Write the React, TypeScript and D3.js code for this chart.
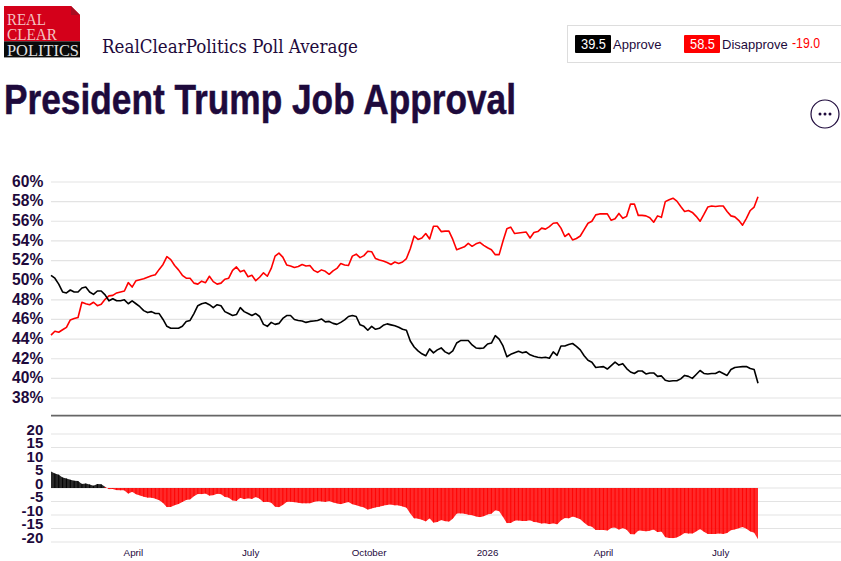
import React from "react";
import * as d3 from "d3";

const approve = [50.5,50.2,49.6,48.8,48.7,49.0,48.8,48.8,49.2,49.3,48.8,48.55,48.9,48.9,48.5,47.9,48.1,47.9,47.9,48.0,47.6,47.9,47.6,47.3,46.9,46.7,46.8,46.6,46.6,46.0,45.3,45.1,45.1,45.1,45.3,45.8,45.9,46.6,47.4,47.6,47.7,47.5,47.2,47.5,47.4,46.8,46.6,46.4,46.5,47.2,46.8,46.6,46.4,46.6,46.3,45.5,45.3,45.7,45.5,45.6,
46.1,46.4,46.4,46.0,45.9,45.85,45.7,45.8,45.85,45.9,46.05,45.75,45.8,45.6,45.5,45.7,45.95,46.3,46.4,46.3,45.45,45.3,44.9,45.3,45.0,45.1,45.4,45.55,45.45,45.35,45.2,45.0,44.9,43.8,43.2,42.8,42.5,42.3,43.0,42.6,42.9,43.1,42.7,42.5,42.8,43.6,43.85,43.85,43.85,43.4,43.1,43.05,43.1,43.5,43.6,44.35,44.0,43.3,42.2,42.45,42.6,42.75,42.6,42.7,42.4,42.25,42.15,42.1,42.15,42.05,
42.7,42.35,43.3,43.3,43.45,43.55,43.25,42.9,42.3,41.85,41.65,41.1,41.15,41.2,40.95,41.3,41.65,41.35,41.5,41.0,40.65,40.5,40.75,40.75,40.45,40.55,40.55,40.2,40.25,39.8,39.7,39.75,39.75,39.95,40.3,40.2,40.0,40.4,40.8,40.5,40.45,40.5,40.5,40.7,40.5,40.3,40.9,41.1,41.15,41.2,41.2,41.0,40.9,39.5];

const disapprove = [44.4,44.8,44.7,44.95,45.2,45.95,46.1,46.2,47.75,47.6,47.5,47.75,47.4,47.55,48.05,48.4,48.45,48.7,48.8,48.9,49.75,49.3,49.95,50.05,50.15,50.3,50.45,50.55,51.1,51.6,52.4,52.1,51.5,51.05,50.5,50.2,50.2,49.7,49.6,49.9,49.75,50.4,49.85,49.6,49.7,50.1,50.2,51.0,51.35,50.85,51.0,50.35,50.5,49.95,50.3,50.75,50.4,51.2,52.45,52.75,
52.35,51.55,51.45,51.3,51.4,51.6,51.45,51.5,51.0,50.8,51.05,50.9,50.6,50.95,51.2,51.7,51.55,51.5,52.45,52.65,52.3,52.5,52.95,52.9,52.2,52.05,51.95,51.8,51.6,51.85,51.7,51.85,52.2,53.2,54.5,54.15,54.3,54.75,54.2,55.5,55.5,54.95,55.0,55.0,54.15,53.1,53.25,53.4,53.75,53.45,53.7,53.85,53.55,53.3,53.1,52.6,52.6,54.0,55.25,55.4,54.75,54.8,54.85,54.9,54.3,54.85,54.95,55.3,55.2,55.45,
55.8,55.85,55.3,54.45,54.75,54.1,54.25,54.5,55.15,55.8,56.0,56.65,56.75,56.75,56.75,56.1,56.25,56.8,56.3,56.5,57.75,57.75,56.6,56.6,56.55,56.35,55.9,56.55,56.4,58.0,58.2,58.35,58.05,57.5,57.0,57.1,56.9,56.5,56.0,56.7,57.45,57.55,57.5,57.55,57.55,57.0,56.55,56.45,56.1,55.6,56.3,57.1,57.45,58.5];

const startDate = new Date(2025, 0, 27);
const stepDays = 3;
const pctTicks = [60, 58, 56, 54, 52, 50, 48, 46, 44, 42, 40, 38];
const spreadTicks = [20, 15, 10, 5, 0, -5, -10, -15, -20];
const monthTicks = [
  { date: new Date(2025, 3, 1), label: "April" },
  { date: new Date(2025, 6, 1), label: "July" },
  { date: new Date(2025, 9, 1), label: "October" },
  { date: new Date(2026, 0, 1), label: "2026" },
  { date: new Date(2026, 3, 1), label: "April" },
  { date: new Date(2026, 6, 1), label: "July" },
];

const NAVY = "#1e0a3c";
const ARIAL = "'Liberation Sans', Arial, sans-serif";
const SERIF = "'Liberation Serif', serif";

export default function App() {
  const dates = approve.map((_, i) => d3.timeDay.offset(startDate, i * stepDays));
  const spread = approve.map((a, i) => a - disapprove[i]);
  const x = d3.scaleTime().domain([dates[0], dates[dates.length - 1]]).range([51, 758]);
  const y = d3.scaleLinear().domain([38, 60]).range([398, 182]);
  const ys = d3.scaleLinear().domain([-20, 20]).range([542, 434]);
  const line = d3
    .line<number>()
    .x((_, i) => x(dates[i]))
    .y((d) => y(d));
  const area = d3
    .area<number>()
    .x((_, i) => x(dates[i]))
    .y0(ys(0))
    .y1((d) => ys(d));
  const pitch = x(dates[1]) - x(dates[0]);

  return (
    <svg
      width={841}
      height={561}
      style={{ position: "absolute", left: 0, top: 0, background: "#fff" }}
    >
      <defs>
        <clipPath id="spreadClip">
          <path d={area(spread) ?? ""} />
        </clipPath>
      </defs>

      {/* Logo */}
      <path d="M4 6H71L80 15V41.3H4Z" fill="#d4001a" />
      <path d="M71 6L80 15H71Z" fill="#a80c20" />
      <rect x={4} y={41.3} width={76} height={15.7} fill="#0a0a0a" />
      <rect x={4} y={57} width={76} height={1} fill="#999" />
      <text x={7} y={25} fontFamily={SERIF} fontSize={16} fill="#f4c4c4" textLength={39} lengthAdjust="spacingAndGlyphs">REAL</text>
      <text x={7} y={40} fontFamily={SERIF} fontSize={16} fill="#f4c4c4" textLength={50} lengthAdjust="spacingAndGlyphs">CLEAR</text>
      <text x={7} y={55.5} fontFamily={SERIF} fontSize={16} fill="#e0e0e0" textLength={72} lengthAdjust="spacingAndGlyphs">POLITICS</text>

      <text x={102} y={53} fontFamily="'DejaVu Serif', serif" fontSize={18} fill={NAVY} textLength={256} lengthAdjust="spacingAndGlyphs">
        RealClearPolitics Poll Average
      </text>
      <text
        x={4}
        y={114}
        fontFamily="'Liberation Sans Narrow', 'Liberation Sans', Arial, sans-serif"
        fontWeight={700}
        fontSize={42}
        fill={NAVY}
        stroke={NAVY}
        strokeWidth={0.5}
        textLength={512}
        lengthAdjust="spacingAndGlyphs"
      >
        President Trump Job Approval
      </text>

      {/* Legend */}
      <rect x={567.5} y={25.5} width={290} height={37} fill="#fff" stroke="#ddd" />
      <rect x={575} y={35} width={36} height={18} rx={1} fill="#000" />
      <text x={581} y={48.5} fontFamily={ARIAL} fontSize={14} fill="#fff" textLength={25} lengthAdjust="spacingAndGlyphs">39.5</text>
      <text x={613} y={48.5} fontFamily={ARIAL} fontSize={13} fill={NAVY}>Approve</text>
      <rect x={684} y={35} width={36} height={18} rx={1} fill="#f00" />
      <text x={690} y={48.5} fontFamily={ARIAL} fontSize={14} fill="#fff" textLength={25} lengthAdjust="spacingAndGlyphs">58.5</text>
      <text x={722} y={48.5} fontFamily={ARIAL} fontSize={13} fill={NAVY}>Disapprove</text>
      <text x={792} y={48} fontFamily={ARIAL} fontSize={14} fill="#f00" textLength={28} lengthAdjust="spacingAndGlyphs">-19.0</text>

      {/* Menu button */}
      <circle cx={825} cy={114} r={14} fill="#fff" stroke={NAVY} strokeWidth={1.2} />
      {[-5, 0, 5].map((dx) => (
        <circle key={dx} cx={825 + dx} cy={114} r={1.5} fill={NAVY} />
      ))}

      {/* Upper chart */}
      {pctTicks.map((t) => (
        <g key={t}>
          <line x1={51} x2={841} y1={y(t)} y2={y(t)} stroke="#e3e3e3" strokeWidth={1.2} />
          <text x={43.3} y={y(t) + 4.8} textAnchor="end" fontFamily={ARIAL} fontWeight={700} fontSize={15.6} fill={NAVY}>
            {t}%
          </text>
        </g>
      ))}
      <path d={line(disapprove) ?? ""} fill="none" stroke="#f00" strokeWidth={1.6} strokeLinejoin="round" />
      <path d={line(approve) ?? ""} fill="none" stroke="#000" strokeWidth={1.6} strokeLinejoin="round" />

      <line x1={51} x2={841} y1={415.7} y2={415.7} stroke="#666" strokeWidth={1.8} />

      {/* Spread chart */}
      {spreadTicks.map((t) => (
        <g key={t}>
          <line x1={51} x2={841} y1={ys(t)} y2={ys(t)} stroke="#e3e3e3" strokeWidth={1.2} />
          <text x={43.3} y={ys(t) + 0.8} textAnchor="end" fontFamily={ARIAL} fontWeight={700} fontSize={15} fill={NAVY}>
            {t}
          </text>
        </g>
      ))}
      <g clipPath="url(#spreadClip)">
        {spread.slice(0, -1).map((s, i) => {
          const extreme = Math.abs(s) >= Math.abs(spread[i + 1]) ? s : spread[i + 1];
          return (
            <rect
              key={i}
              x={x(dates[i]) - 0.6}
              y={Math.min(ys(extreme), ys(0)) - 1}
              width={pitch + 1.2}
              height={Math.abs(ys(extreme) - ys(0)) + 1}
              fill={s + spread[i + 1] >= 0 ? "#000" : "#f00"}
              opacity={0.84}
            />
          );
        })}
      </g>

      {monthTicks.map((m, i) => (
        <text key={i} x={x(m.date)} y={556} textAnchor="middle" fontFamily={ARIAL} fontSize={9.8} fill={NAVY}>
          {m.label}
        </text>
      ))}
    </svg>
  );
}
